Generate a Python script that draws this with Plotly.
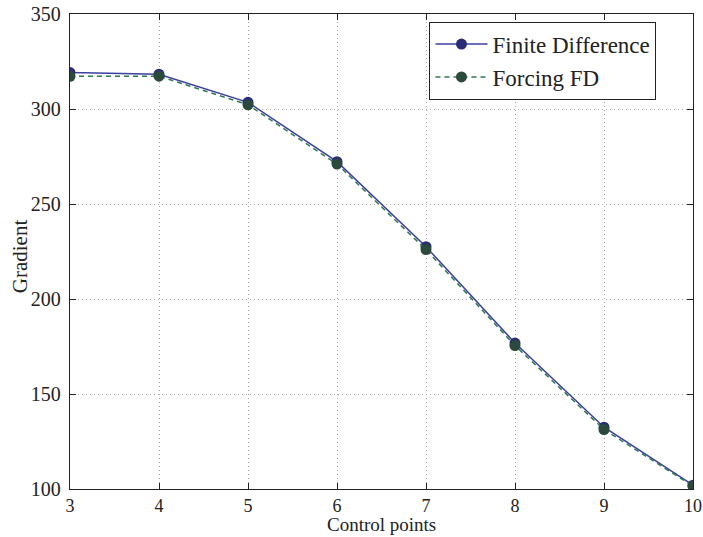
import plotly.graph_objects as go

control_points = [3, 4, 5, 6, 7, 8, 9, 10]
finite_difference = [319.2, 318.3, 303.5, 272.3, 227.5, 176.8, 132.5, 102.0]
forcing_fd = [317.2, 317.3, 302.2, 271.0, 226.0, 175.5, 131.3, 101.5]

x_title = "Control points"
y_title = "Gradient"

font_family = "Liberation Serif, DejaVu Serif, serif"

fig = go.Figure()
fig.add_trace(go.Scatter(
    x=control_points, y=finite_difference, name="Finite Difference",
    mode="lines+markers",
    line=dict(color="#3b3fa0", width=1.5),
    marker=dict(color="#2a2c78", size=11),
))
fig.add_trace(go.Scatter(
    x=control_points, y=forcing_fd, name="Forcing FD",
    mode="lines+markers",
    line=dict(color="#2e7a50", width=1.5, dash="5px,4px"),
    marker=dict(color="#2c4a3c", size=11),
))

axis_common = dict(
    showline=True, linecolor="#222", linewidth=1.3, mirror="ticks",
    ticks="inside", ticklen=6, tickcolor="#222",
    showgrid=True, gridcolor="#a8a8a8", griddash="1px,3px", gridwidth=1,
    zeroline=False, automargin=False,
)

fig.update_layout(
    width=703, height=537,
    margin=dict(l=70, r=10, t=14, b=48),
    paper_bgcolor="white", plot_bgcolor="white",
    font=dict(family=font_family, color="#222"),
    showlegend=True,
    legend=dict(
        x=0.577, y=0.984, xanchor="left", yanchor="top",
        bgcolor="white", bordercolor="#222", borderwidth=1,
        font=dict(family=font_family, size=23, color="#222"),
        tracegroupgap=0, itemwidth=52,
    ),
    xaxis=dict(range=[3, 10], dtick=1,
               tickfont=dict(family=font_family, size=18, color="#222"),
               **axis_common),
    yaxis=dict(range=[100, 350], dtick=50, ticklabelstandoff=4,
               tickfont=dict(family=font_family, size=20, color="#222"),
               **axis_common),
    annotations=[
        dict(text=x_title, xref="paper", yref="paper", x=0.5, y=0,
             xanchor="center", yanchor="bottom", yshift=-48, showarrow=False,
             font=dict(family=font_family, size=19, color="#222")),
        dict(text=y_title, xref="paper", yref="paper", x=0, y=0.49,
             xanchor="center", yanchor="middle", xshift=-50, textangle=-90,
             showarrow=False,
             font=dict(family=font_family, size=21, color="#222")),
    ],
)

fig.write_html("out.html",
               config={"displayModeBar": False},
               post_script="document.body.style.margin='0';document.body.style.overflow='hidden';")
